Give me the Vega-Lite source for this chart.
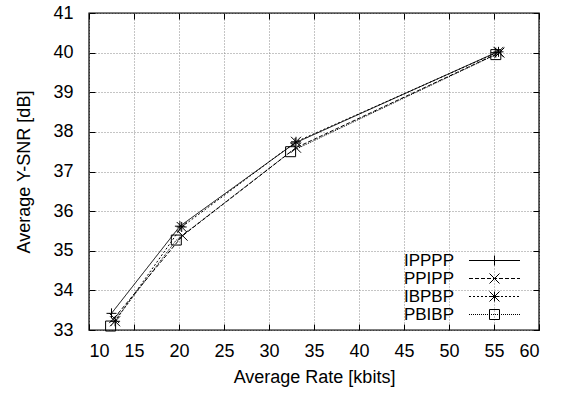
{
  "$schema": "https://vega.github.io/schema/vega-lite/v6.json",
  "width": 450,
  "height": 317,
  "autosize": "none",
  "padding": {"left": 89, "top": 13, "right": 24, "bottom": 64},
  "background": "white",
  "config": {
    "font": "Liberation Sans",
    "view": {"stroke": "black", "strokeWidth": 1.4},
    "axis": {
      "labelFont": "Liberation Sans",
      "titleFont": "Liberation Sans",
      "labelFontSize": 18,
      "titleFontSize": 18,
      "titleFontWeight": "normal",
      "labelColor": "black",
      "titleColor": "black",
      "tickColor": "black",
      "domain": false,
      "gridColor": "#8a8a8a",
      "gridDash": [1, 2],
      "gridWidth": 1
    },
    "legend": {
      "labelFont": "Liberation Sans",
      "labelFontSize": 17,
      "labelColor": "black"
    }
  },
  "data": {
    "values": [
      {"series": "IPPPP", "rate": 12.5, "snr": 33.42},
      {"series": "IPPPP", "rate": 20.1, "snr": 35.62},
      {"series": "IPPPP", "rate": 32.9, "snr": 37.72},
      {"series": "IPPPP", "rate": 55.2, "snr": 40.0},
      {"series": "PPIPP", "rate": 12.8, "snr": 33.3},
      {"series": "PPIPP", "rate": 20.4, "snr": 35.38},
      {"series": "PPIPP", "rate": 33.0, "snr": 37.6},
      {"series": "PPIPP", "rate": 55.6, "snr": 40.0},
      {"series": "IBPBP", "rate": 12.9, "snr": 33.22},
      {"series": "IBPBP", "rate": 20.3, "snr": 35.6},
      {"series": "IBPBP", "rate": 33.0, "snr": 37.75},
      {"series": "IBPBP", "rate": 55.5, "snr": 40.02},
      {"series": "PBIBP", "rate": 12.4, "snr": 33.1},
      {"series": "PBIBP", "rate": 19.7, "snr": 35.27},
      {"series": "PBIBP", "rate": 32.4, "snr": 37.5},
      {"series": "PBIBP", "rate": 55.2, "snr": 39.95}
    ]
  },
  "resolve": {"axis": {"x": "independent", "y": "independent"}},
  "layer": [
    {
      "mark": {"type": "line", "color": "black", "strokeWidth": 1},
      "encoding": {
        "x": {
          "field": "rate", "type": "quantitative",
          "scale": {"domain": [10, 60], "nice": false, "zero": false},
          "axis": {"title": "Average Rate [kbits]", "values": [10,15,20,25,30,35,40,45,50,55,60], "grid": true, "tickSize": -6, "labelPadding": 18, "titlePadding": 8}
        },
        "y": {
          "field": "snr", "type": "quantitative",
          "scale": {"domain": [33, 41], "nice": false, "zero": false},
          "axis": {"title": "Average Y-SNR [dB]", "values": [33,34,35,36,37,38,39,40,41], "grid": true, "tickSize": -6, "labelPadding": 22, "titlePadding": 19}
        },
        "strokeDash": {
          "field": "series", "type": "nominal",
          "sort": ["IPPPP", "PPIPP", "IBPBP", "PBIBP"],
          "scale": {"range": [[1, 0], [4, 2], [2, 2], [1, 1]]},
          "legend": {
            "title": null, "orient": "none", "legendX": 397, "legendY": 239,
            "padding": 0, "rowPadding": 0,
            "symbolType": "M-5.1,0H5.1", "symbolSize": 100,
            "symbolStrokeColor": "black", "symbolStrokeWidth": 1,
            "labelAlign": "right", "labelOffset": -49
          }
        }
      }
    },
    {
      "mark": {"type": "point", "filled": false, "color": "black", "strokeWidth": 1, "size": 100, "opacity": 1},
      "encoding": {
        "x": {"field": "rate", "type": "quantitative", "axis": null},
        "y": {"field": "snr", "type": "quantitative", "axis": null},
        "shape": {
          "field": "series", "type": "nominal",
          "scale": {
            "domain": ["IPPPP", "PPIPP", "IBPBP", "PBIBP"],
            "range": ["M0,-1V1M-1,0H1", "M-1,-1L1,1M-1,1L1,-1", "M0,-1V1M-1,0H1M-1,-1L1,1M-1,1L1,-1", "M-1,-1H1V1H-1Z"]
          },
          "legend": {
            "title": null, "orient": "none", "legendX": 397, "legendY": 239,
            "padding": 0, "rowPadding": 0,
            "symbolSize": 100,
            "symbolStrokeColor": "black", "symbolStrokeWidth": 1, "symbolFillColor": "transparent",
            "labelAlign": "right", "labelOffset": -49, "labelExpr": "' '"
          }
        }
      }
    },
    {
      "mark": {"type": "point", "opacity": 0},
      "encoding": {
        "x": {"field": "rate", "type": "quantitative",
          "axis": {"orient": "top", "title": null, "labels": false, "grid": false, "tickSize": -6, "values": [10,15,20,25,30,35,40,45,50,55,60]}},
        "y": {"field": "snr", "type": "quantitative",
          "axis": {"orient": "right", "title": null, "labels": false, "grid": false, "tickSize": -6, "values": [33,34,35,36,37,38,39,40,41]}}
      }
    }
  ]
}
